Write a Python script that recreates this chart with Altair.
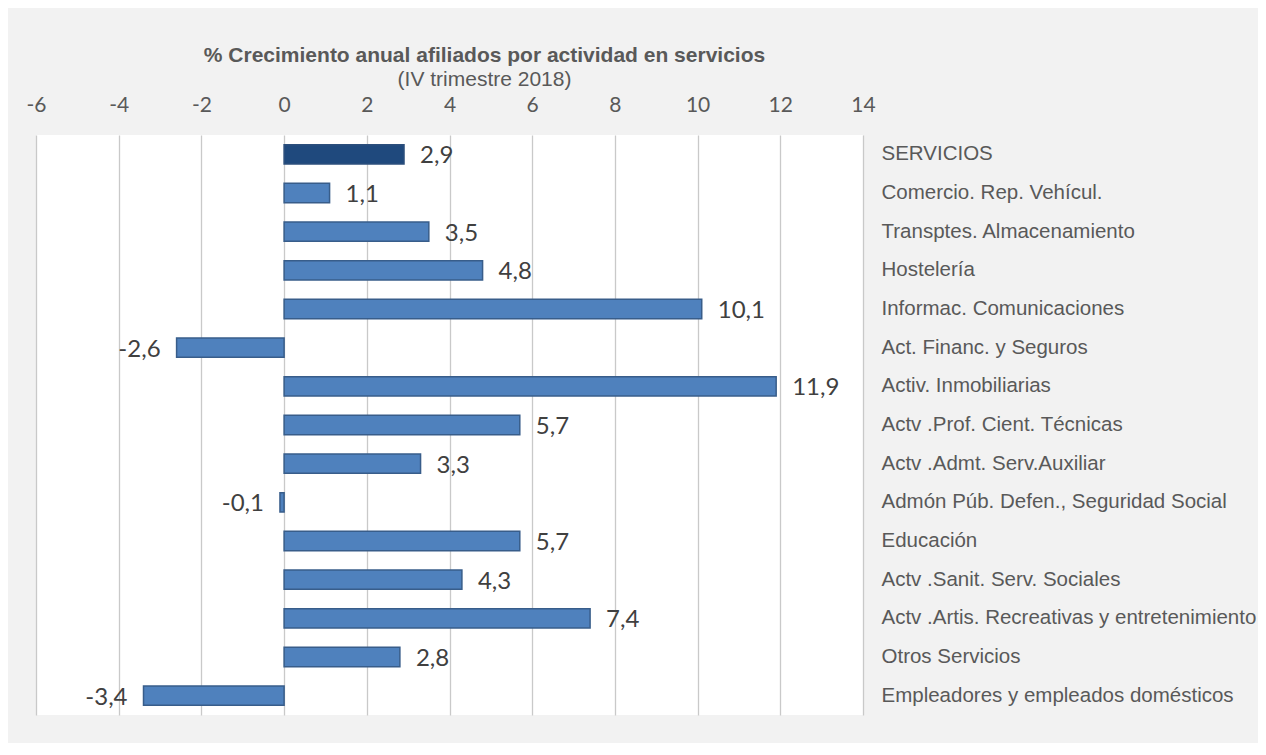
import altair as alt
import pandas as pd

categories = [
    "SERVICIOS",
    "Comercio. Rep. Vehícul.",
    "Transptes. Almacenamiento",
    "Hostelería",
    "Informac. Comunicaciones",
    "Act. Financ. y Seguros",
    "Activ. Inmobiliarias",
    "Actv .Prof. Cient. Técnicas",
    "Actv .Admt. Serv.Auxiliar",
    "Admón Púb. Defen., Seguridad Social",
    "Educación",
    "Actv .Sanit. Serv. Sociales",
    "Actv .Artis. Recreativas y entretenimiento",
    "Otros Servicios",
    "Empleadores y empleados domésticos",
]
values = [2.9, 1.1, 3.5, 4.8, 10.1, -2.6, 11.9, 5.7, 3.3, -0.1, 5.7, 4.3, 7.4, 2.8, -3.4]
groups = ["total"] + ["rama"] * (len(categories) - 1)
x_ticks = [-6, -4, -2, 0, 2, 4, 6, 8, 10, 12, 14]

df = pd.DataFrame({
    "actividad": categories,
    "valor": values,
    "grupo": groups,
    "etiqueta": [f"{v:.1f}".replace(".", ",") for v in values],
})

x_enc = alt.X(
    "valor:Q",
    scale=alt.Scale(domain=[-6, 14], nice=False, zero=False),
    axis=alt.Axis(
        orient="top", values=x_ticks, ticks=False, tickSize=0, domain=False,
        grid=True, gridColor="#c9c9c9", gridWidth=1.3,
        labelFont="Lato", labelFontSize=21, labelColor="#595959",
        labelPadding=20, labelFlush=False, labelExpr="toString(datum.value)",
        title=None,
    ),
)
y_enc = alt.Y(
    "actividad:N", sort=categories,
    scale=alt.Scale(paddingInner=0.5, paddingOuter=0.25),
    axis=alt.Axis(
        orient="right", ticks=False, domain=False, grid=False,
        labelAlign="left", labelPadding=18, labelFont="Liberation Sans",
        labelFontSize=20.5, labelColor="#595959", labelLimit=600, title=None,
    ),
)

bars = alt.Chart(df).mark_bar(strokeWidth=1.5).encode(
    x=x_enc,
    y=y_enc,
    color=alt.Color("grupo:N", scale=alt.Scale(domain=["total", "rama"], range=["#1f497d", "#4f81bd"]), legend=None),
    stroke=alt.Stroke("grupo:N", scale=alt.Scale(domain=["total", "rama"], range=["#2c4f7c", "#385d8a"]), legend=None),
)

pos_labels = alt.Chart(df).transform_filter("datum.valor >= 0").mark_text(
    align="left", baseline="middle", dx=16, dy=2, font="Lato", fontSize=24, color="#404040"
).encode(x="valor:Q", y=alt.Y("actividad:N", sort=categories), text="etiqueta:N")

neg_labels = alt.Chart(df).transform_filter("datum.valor < 0").mark_text(
    align="right", baseline="middle", dx=-16, dy=2, font="Lato", fontSize=24, color="#404040"
).encode(x="valor:Q", y=alt.Y("actividad:N", sort=categories), text="etiqueta:N")

chart = alt.layer(bars, pos_labels, neg_labels).properties(
    width=827,
    height=580,
    autosize=alt.AutoSizeParams(type="none"),
    padding={"left": 28, "top": 127, "right": 395, "bottom": 28},
    background="#f2f2f2",
    title=alt.Title(
        text="% Crecimiento anual afiliados por actividad en servicios",
        subtitle="(IV trimestre 2018)",
        anchor="middle", frame="group", dx=35, offset=4,
        font="Liberation Sans", fontSize=21, fontWeight="bold", color="#595959",
        subtitleFont="Liberation Sans", subtitleFontSize=21, subtitleColor="#595959",
        subtitlePadding=3,
    ),
).configure_view(fill="white", stroke=None)

chart.save("out.html", embed_options={"renderer": "svg", "actions": False})
